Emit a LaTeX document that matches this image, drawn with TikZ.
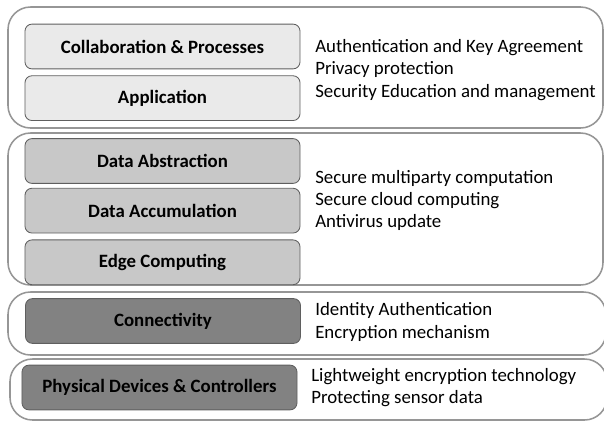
\documentclass[tikz,border=0pt]{standalone}
\usepackage{fontspec}
\setmainfont{Carlito}
\usetikzlibrary{positioning}

\definecolor{boxlight}{RGB}{234,234,234}
\definecolor{boxmid}{RGB}{200,200,200}
\definecolor{boxdark}{RGB}{130,130,130}
\definecolor{boxline}{RGB}{95,95,95}
\definecolor{layerline}{RGB}{150,150,150}

\tikzset{
    layer/.style={draw=layerline, line width=1.1pt, rounded corners=16pt},
    stackbox/.style={draw=boxline, line width=0.6pt, rounded corners=5pt,
        minimum width=6.875cm, minimum height=1.12cm, inner sep=0pt,
        font=\bfseries\fontsize{13.4}{15}\selectfont},
    notes/.style={anchor=west, align=left, inner sep=0pt,
        font=\fontsize{13.4}{15.7}\selectfont},
}

\newcommand{\layerframe}[3][603]{%
    \draw[layer] (8,#2) rectangle (#1,#3);
}

\begin{document}
\begin{tikzpicture}[x=0.025cm, y=-0.025cm, node distance=0.15cm]
    \useasboundingbox (0,0) rectangle (604,422);

    % application layer
    \layerframe{7}{128}
    \node[stackbox, fill=boxlight] (collab) at (162.5,46.5) {Collaboration \& Processes};
    \node[stackbox, fill=boxlight, below=of collab] (app) {Application};
    \node[notes] (appnotes) at (315,70) {Authentication and Key Agreement\\
        Privacy protection\\Security Education and management};

    % data layer
    \layerframe{133}{285}
    \node[stackbox, fill=boxmid] (abstr) at (162.5,161) {Data Abstraction};
    \node[stackbox, fill=boxmid, below=0.1cm of abstr] (accum) {Data Accumulation};
    \node[stackbox, fill=boxmid, below=of accum] (edge) {Edge Computing};
    \node[notes] (datanotes) at (315,200.5) {Secure multiparty computation\\
        Secure cloud computing\\Antivirus update};

    % network layer
    \layerframe[606]{292}{355}
    \node[stackbox, fill=boxdark] (conn) at (163,321) {Connectivity};
    \node[notes] (connnotes) at (315,322) {Identity Authentication\\Encryption mechanism};

    % device layer
    \draw[layer] (10,359) rectangle (607,420);
    \node[stackbox, fill=boxdark] (phys) at (159.5,387.5) {Physical Devices \& Controllers};
    \node[notes] (physnotes) at (311,388) {Lightweight encryption technology\\Protecting sensor data};
\end{tikzpicture}
\end{document}
